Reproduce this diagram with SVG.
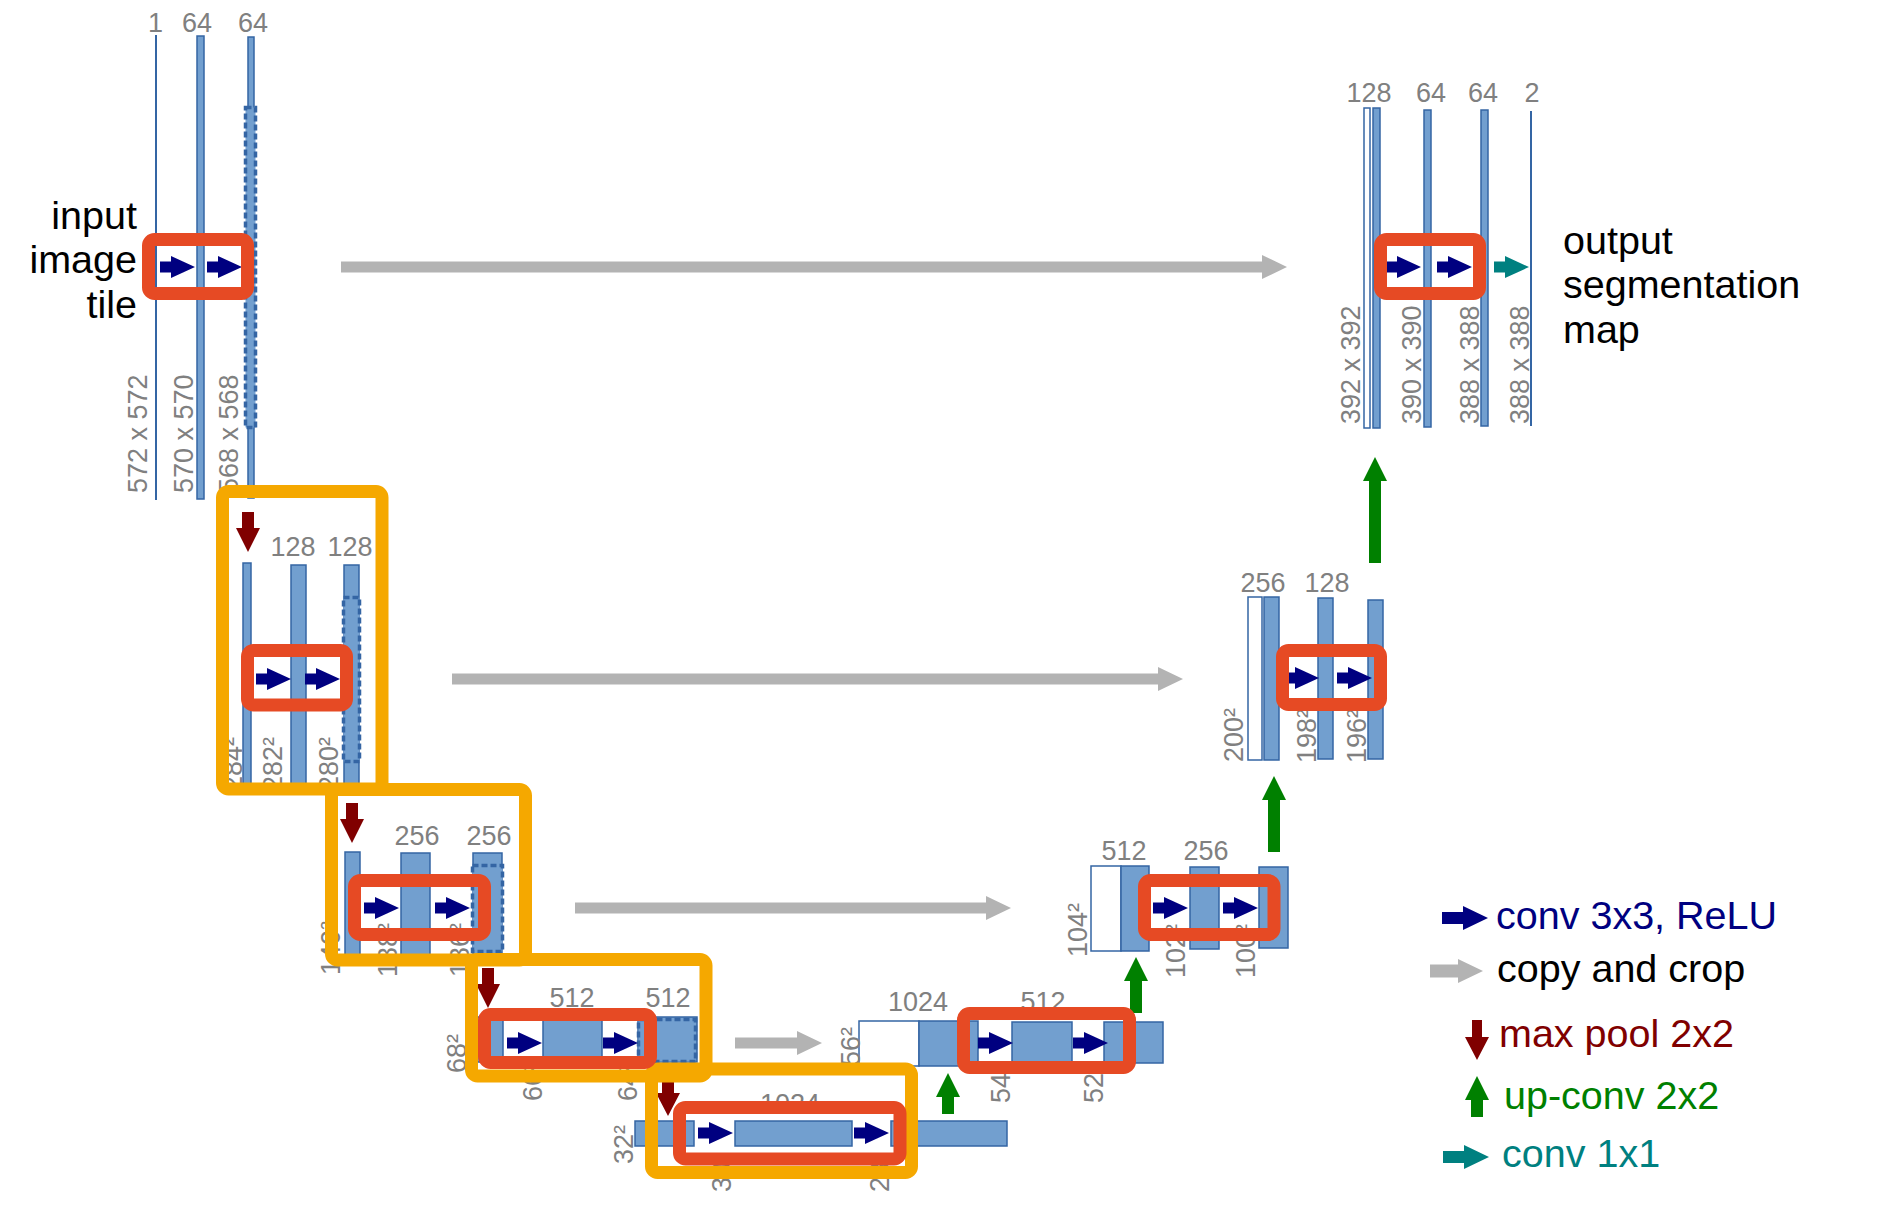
<svg xmlns="http://www.w3.org/2000/svg" xmlns:xlink="http://www.w3.org/1999/xlink" width="1888" height="1211" viewBox="0 0 1888 1211">
<defs>
<style>
.bar{fill:#729fcf;stroke:#3465a4;stroke-width:1.5}
.wbar{fill:#ffffff;stroke:#3465a4;stroke-width:1.5}
.dash{fill:#729fcf;stroke:#3465a4;stroke-width:3.5;stroke-dasharray:6 3}
.ln{stroke:#3465a4;stroke-width:2}
.num{font-family:"Liberation Sans",Arial,sans-serif;font-size:27px;fill:#808080;text-anchor:middle}
.dim{font-family:"Liberation Sans",Arial,sans-serif;font-size:27px;fill:#808080}
.big{font-family:"Liberation Sans",Arial,sans-serif;font-size:39.5px}
.conv{fill:#000080}
.copy{fill:#b3b3b3}
.pool{fill:#800000}
.up{fill:#008000}
.c11{fill:#008080}
.ob{fill:none;stroke:#f5a800;stroke-width:13}
.rb{fill:none;stroke:#e64a24;stroke-width:13}
</style>
<path id="ca" d="M0,-5.5 H11 V-11 L35,0 L11,11 V5.5 H0 Z"/>
</defs>
<rect width="1888" height="1211" fill="#ffffff"/>

<g id="enc1">
<line class="ln" x1="156" y1="35" x2="156" y2="500"/>
<rect class="bar" x="197" y="36" width="7" height="463"/>
<rect class="bar" x="248" y="37" width="6" height="461"/>
<rect class="dash" x="245.5" y="107.5" width="10" height="320"/>
<text class="num" x="155.5" y="32">1</text>
<text class="num" x="197" y="32">64</text>
<text class="num" x="253" y="32">64</text>
<text class="dim" transform="translate(146.5,493) rotate(-90)">572 x 572</text>
<text class="dim" transform="translate(192.5,493) rotate(-90)">570 x 570</text>
<text class="dim" transform="translate(237.5,493) rotate(-90)">568 x 568</text>
<text class="big" text-anchor="end" x="137" y="229">input</text>
<text class="big" text-anchor="end" x="137" y="273">image</text>
<text class="big" text-anchor="end" x="137" y="318">tile</text>
</g>

<g id="enc2">
<rect class="bar" x="243" y="563" width="8" height="222"/>
<rect class="bar" x="291" y="565" width="15" height="220"/>
<rect class="bar" x="344" y="565" width="15" height="220"/>
<rect class="dash" x="343.5" y="597.5" width="16" height="164"/>
<text class="num" x="293" y="556">128</text>
<text class="num" x="350" y="556">128</text>
<text class="dim" transform="translate(241.5,791) rotate(-90)">284²</text>
<text class="dim" transform="translate(282,791) rotate(-90)">282²</text>
<text class="dim" transform="translate(337.5,791) rotate(-90)">280²</text>
</g>

<g id="enc3">
<rect class="bar" x="345" y="852" width="15" height="106"/>
<rect class="bar" x="401" y="853" width="29" height="105"/>
<rect class="bar" x="473" y="853" width="29" height="105"/>
<rect class="dash" x="472.5" y="865.5" width="30" height="86"/>
<text class="num" x="417" y="845">256</text>
<text class="num" x="489" y="845">256</text>
<text class="dim" transform="translate(339.5,975) rotate(-90)">140²</text>
<text class="dim" transform="translate(396.5,977) rotate(-90)">138²</text>
<text class="dim" transform="translate(468.5,977) rotate(-90)">136²</text>
</g>

<g id="enc4">
<rect class="bar" x="474" y="1017" width="29" height="45"/>
<rect class="bar" x="543" y="1017" width="59" height="45"/>
<rect class="bar" x="638" y="1017" width="59" height="45"/>
<rect class="dash" x="638.5" y="1019.5" width="57" height="42"/>
<text class="num" x="572" y="1007">512</text>
<text class="num" x="668" y="1007">512</text>
<text class="dim" transform="translate(465.5,1073) rotate(-90)">68²</text>
<text class="dim" transform="translate(541.5,1101) rotate(-90)">66²</text>
<text class="dim" transform="translate(636.5,1101) rotate(-90)">64²</text>
</g>

<g id="bottom">
<rect class="bar" x="635" y="1121" width="59" height="25"/>
<rect class="bar" x="735" y="1121" width="117" height="25"/>
<rect class="bar" x="891" y="1121" width="116" height="25"/>
<text class="num" x="790" y="1113">1024</text>
<text class="dim" transform="translate(632.5,1164) rotate(-90)">32²</text>
<text class="dim" transform="translate(730.5,1192) rotate(-90)">30²</text>
<text class="dim" transform="translate(888.5,1192) rotate(-90)">28²</text>
</g>

<g id="dec4">
<rect class="wbar" x="859" y="1021" width="60" height="45"/>
<rect class="bar" x="919" y="1021" width="59" height="45"/>
<rect class="bar" x="1012" y="1022" width="60" height="40"/>
<rect class="bar" x="1104" y="1022" width="59" height="41"/>
<text class="num" x="918" y="1011">1024</text>
<text class="num" x="1043" y="1011">512</text>
<text class="dim" transform="translate(859.5,1066) rotate(-90)">56²</text>
<text class="dim" transform="translate(1009.5,1103) rotate(-90)">54²</text>
<text class="dim" transform="translate(1102.5,1103) rotate(-90)">52²</text>
</g>

<g id="dec3">
<rect class="wbar" x="1091" y="866" width="30" height="85"/>
<rect class="bar" x="1121" y="866" width="28" height="85"/>
<rect class="bar" x="1190" y="867" width="29" height="82"/>
<rect class="bar" x="1259" y="867" width="29" height="81"/>
<text class="num" x="1124" y="860">512</text>
<text class="num" x="1206" y="860">256</text>
<text class="dim" transform="translate(1086.5,957) rotate(-90)">104²</text>
<text class="dim" transform="translate(1185,978) rotate(-90)">102²</text>
<text class="dim" transform="translate(1255,978) rotate(-90)">100²</text>
</g>

<g id="dec2">
<rect class="wbar" x="1248" y="597" width="14" height="163"/>
<rect class="bar" x="1264" y="597" width="15" height="163"/>
<rect class="bar" x="1318" y="598" width="15" height="161"/>
<rect class="bar" x="1368" y="600" width="15" height="159"/>
<text class="num" x="1263" y="592">256</text>
<text class="num" x="1327" y="592">128</text>
<text class="dim" transform="translate(1242.5,762) rotate(-90)">200²</text>
<text class="dim" transform="translate(1315.5,763) rotate(-90)">198²</text>
<text class="dim" transform="translate(1365.5,763) rotate(-90)">196²</text>
</g>

<g id="dec1">
<rect class="wbar" x="1364" y="108" width="6" height="320"/>
<rect class="bar" x="1373" y="108" width="7" height="320"/>
<rect class="bar" x="1424" y="110" width="7" height="317"/>
<rect class="bar" x="1481" y="110" width="7" height="316"/>
<line class="ln" x1="1531" y1="111" x2="1531" y2="426"/>
<text class="num" x="1369" y="102">128</text>
<text class="num" x="1431" y="102">64</text>
<text class="num" x="1483" y="102">64</text>
<text class="num" x="1532" y="102">2</text>
<text class="dim" transform="translate(1359.5,424) rotate(-90)">392 x 392</text>
<text class="dim" transform="translate(1420.5,424) rotate(-90)">390 x 390</text>
<text class="dim" transform="translate(1478.5,424) rotate(-90)">388 x 388</text>
<text class="dim" transform="translate(1528.5,424) rotate(-90)">388 x 388</text>
<text class="big" x="1563" y="254">output</text>
<text class="big" x="1563" y="298">segmentation</text>
<text class="big" x="1563" y="343">map</text>
</g>

<g id="connectors">
<path class="copy" d="M341,261.5 H1262 V255 L1287,267 L1262,279 V272.5 H341 Z"/>
<path class="copy" d="M452,673.5 H1158 V667 L1183,679 L1158,691 V684.5 H452 Z"/>
<path class="copy" d="M575,902.5 H986 V896 L1011,908 L986,920 V913.5 H575 Z"/>
<path class="copy" d="M735,1037.5 H797 V1031 L822,1043 L797,1055 V1048.5 H735 Z"/>
<path class="pool" d="M242,512 H254 V528 H260 L248,552 L236,528 H242 Z"/>
<path class="pool" d="M346,803 H358 V819 H364 L352,843 L340,819 H346 Z"/>
<path class="pool" d="M482,968 H494 V984 H500 L488,1008 L476,984 H482 Z"/>
<path class="pool" d="M662,1080 H674 V1093 H680 L668,1116 L656,1093 H662 Z"/>
<path class="up" d="M948,1073 L960,1097 H954 V1114 H942 V1097 H936 Z"/>
<path class="up" d="M1136,957 L1148,981 H1142 V1013 H1130 V981 H1124 Z"/>
<path class="up" d="M1274,776 L1286,800 H1280 V852 H1268 V800 H1262 Z"/>
<path class="up" d="M1375,457 L1387,481 H1381 V563 H1369 V481 H1363 Z"/>
<use href="#ca" class="conv" x="160" y="267"/>
<use href="#ca" class="conv" x="207" y="267"/>
<use href="#ca" class="conv" x="256" y="679"/>
<use href="#ca" class="conv" x="305" y="679"/>
<use href="#ca" class="conv" x="364" y="908"/>
<use href="#ca" class="conv" x="435" y="908"/>
<use href="#ca" class="conv" x="507" y="1043"/>
<use href="#ca" class="conv" x="603" y="1043"/>
<use href="#ca" class="conv" x="698" y="1133"/>
<use href="#ca" class="conv" x="854" y="1133"/>
<use href="#ca" class="conv" x="978" y="1043"/>
<use href="#ca" class="conv" x="1073" y="1043"/>
<use href="#ca" class="conv" x="1153" y="908"/>
<use href="#ca" class="conv" x="1223" y="908"/>
<use href="#ca" class="conv" x="1284" y="678"/>
<use href="#ca" class="conv" x="1337" y="678"/>
<use href="#ca" class="conv" x="1386" y="267"/>
<use href="#ca" class="conv" x="1437" y="267"/>
<use href="#ca" class="c11" x="1494" y="267"/>
</g>

<g id="highlights">
<rect class="ob" x="222.5" y="491.5" width="159.5" height="297.5" rx="6"/>
<rect class="ob" x="331.5" y="789.5" width="194" height="170.5" rx="6"/>
<rect class="ob" x="471.5" y="959.5" width="234.5" height="116.5" rx="6"/>
<rect class="ob" x="651.5" y="1069" width="260" height="103.5" rx="6"/>
<rect class="rb" x="148.5" y="239.5" width="99" height="54" rx="6"/>
<rect class="rb" x="247.5" y="650.5" width="99" height="54.5" rx="6"/>
<rect class="rb" x="354.5" y="880.5" width="130" height="54" rx="6"/>
<rect class="rb" x="484.5" y="1014.5" width="166" height="48" rx="6"/>
<rect class="rb" x="679.5" y="1107.5" width="220.5" height="51.5" rx="6"/>
<rect class="rb" x="963.5" y="1013.5" width="166" height="54" rx="6"/>
<rect class="rb" x="1144.5" y="880.5" width="129.5" height="54" rx="6"/>
<rect class="rb" x="1282.5" y="650.5" width="98" height="54" rx="6"/>
<rect class="rb" x="1380.5" y="239.5" width="99" height="54" rx="6"/>
</g>

<g id="legend">
<path class="conv" d="M1442,912 H1463 V906 L1488,918 L1463,930 V924 H1442 Z"/>
<text class="big" x="1496" y="929" fill="#000080">conv 3x3, ReLU</text>
<path class="copy" d="M1430,964.5 H1458 V959 L1483,971 L1458,983 V977.5 H1430 Z"/>
<text class="big" x="1497" y="982" fill="#000000">copy and crop</text>
<path class="pool" d="M1472,1020 H1482 V1037 H1489 L1477,1060 L1465,1037 H1472 Z"/>
<text class="big" x="1499" y="1047" fill="#800000">max pool 2x2</text>
<path class="up" d="M1477,1076 L1489,1100 H1483 V1117 H1471 V1100 H1465 Z"/>
<text class="big" x="1504" y="1109" fill="#008000">up-conv 2x2</text>
<path class="c11" d="M1443,1151 H1464 V1145 L1489,1157 L1464,1169 V1163 H1443 Z"/>
<text class="big" x="1502" y="1167" fill="#008080">conv 1x1</text>
</g>
</svg>
